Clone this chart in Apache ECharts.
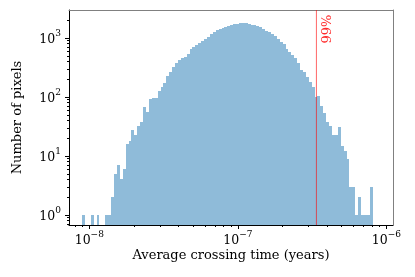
<!DOCTYPE html>
<html><head><meta charset="utf-8">
<script src="https://cdn.jsdelivr.net/npm/echarts@6/dist/echarts.min.js"></script>
<style>html,body{margin:0;padding:0;background:#fff}#c{width:415px;height:277px}</style>
</head><body><div id="c"></div>
<script>
// Histogram: 100 log-spaced bins
const binLogStart = -8.049;   // log10 of first bin's left edge
const binLogStep = 0.01957;   // bin width in decades
const counts = [
  1, 0, 0, 1, 0, 1, 0, 0, 1, 1,
  2, 5, 7, 4, 6, 16, 18, 28, 23, 32,
  37, 67, 55, 92, 96, 98, 126, 148, 170, 224,
  265, 320, 375, 430, 455, 470, 540, 640, 700, 770,
  830, 890, 960, 1040, 1170, 1260, 1350, 1410, 1490, 1540,
  1590, 1630, 1700, 1730, 1780, 1795, 1780, 1730, 1680, 1630,
  1600, 1520, 1420, 1330, 1250, 1170, 1080, 960, 860, 800,
  660, 580, 520, 455, 370, 283, 262, 222, 182, 146,
  101, 102, 70, 53, 37, 32, 23, 23, 31, 15,
  12, 9, 3, 3, 1, 2, 1, 1, 1, 3
];
const percentile99 = 3.38e-7;
const percentileLabel = '99%';
const xMajorTicks = [1e-8, 1e-7, 1e-6];
const yMajorTicks = [1, 10, 100, 1000];
const xRange = [7.30e-9, 1.108e-6];
const yRange = [0.677, 2983];
const xAxisTitle = 'Average crossing time (years)';
const yAxisTitle = 'Number of pixels';

const bins = counts.map((c, i) => [
  Math.pow(10, binLogStart + i * binLogStep),
  Math.pow(10, binLogStart + (i + 1) * binLogStep),
  c
]);

function minorTicks(lo, hi) {
  const out = [];
  for (let e = Math.floor(Math.log10(lo)) - 1; e <= Math.ceil(Math.log10(hi)); e++) {
    for (let m = 2; m <= 9; m++) {
      const v = m * Math.pow(10, e);
      if (v >= lo && v <= hi) out.push(v);
    }
  }
  return out;
}

const FONT = 'DejaVu Serif';
const supFmt = v => {
  const e = Math.round(Math.log10(v));
  return '{b|10}{s|' + (e < 0 ? '\u2212' + (-e) : e) + '}';
};
const rich = {
  b: {fontFamily: FONT, fontSize: 12.5, color: '#000', lineHeight: 17, verticalAlign: 'bottom'},
  s: {fontFamily: FONT, fontSize: 9, color: '#000', lineHeight: 17, verticalAlign: 'top'}
};

const chart = echarts.init(document.getElementById('c'), null, {renderer: 'canvas'});
const grid = {left: 69, right: 22, top: 10, bottom: 52};
const logX = {type: 'log', logBase: 10, min: xRange[0], max: xRange[1], splitLine: {show: false}};
const logY = {type: 'log', logBase: 10, min: yRange[0], max: yRange[1], splitLine: {show: false}};

chart.setOption({
  animation: false,
  backgroundColor: '#fff',
  grid: grid,
  xAxis: [
    Object.assign({}, logX, {
      position: 'bottom',
      axisLine: {show: true, lineStyle: {color: '#000', width: 1}},
      axisTick: {show: true, length: 4, inside: false, customValues: xMajorTicks, lineStyle: {color: '#000'}},
      axisLabel: {show: true, margin: 5, customValues: xMajorTicks, formatter: supFmt, rich: rich}
    }),
    Object.assign({}, logX, {
      position: 'bottom',
      axisLine: {show: false},
      axisTick: {show: true, length: 2, customValues: minorTicks(xRange[0], xRange[1]), lineStyle: {color: '#000'}},
      axisLabel: {show: false}
    }),
    Object.assign({}, logX, {
      position: 'top',
      axisLine: {show: true, lineStyle: {color: '#808080', width: 1}},
      axisTick: {show: false},
      axisLabel: {show: false}
    })
  ],
  yAxis: [
    Object.assign({}, logY, {
      position: 'left',
      axisLine: {show: true, lineStyle: {color: '#000', width: 1}},
      axisTick: {show: true, length: 4, customValues: yMajorTicks, lineStyle: {color: '#000'}},
      axisLabel: {show: true, margin: 8, customValues: yMajorTicks, formatter: supFmt, rich: rich}
    }),
    Object.assign({}, logY, {
      position: 'left',
      axisLine: {show: false},
      axisTick: {show: true, length: 2, customValues: minorTicks(yRange[0], yRange[1]), lineStyle: {color: '#000'}},
      axisLabel: {show: false}
    }),
    Object.assign({}, logY, {
      position: 'right',
      axisLine: {show: true, lineStyle: {color: '#808080', width: 1}},
      axisTick: {show: false},
      axisLabel: {show: false}
    })
  ],
  series: [
    {
      type: 'custom',
      xAxisIndex: 0, yAxisIndex: 0,
      data: bins,
      encode: {x: [0, 1], y: 2},
      clip: true,
      renderItem: function (params, api) {
        const c = api.value(2);
        if (!(c > 0)) return null;
        const p0 = api.coord([api.value(0), c]);
        const p1 = api.coord([api.value(1), c]);
        const cs = params.coordSys;
        const bottom = cs.y + cs.height;
        const x0 = Math.round(p0[0]);
        const x1 = Math.round(p1[0]);
        const y0 = Math.round(p0[1]);
        return {
          type: 'rect',
          shape: {x: x0, y: y0, width: x1 - x0, height: bottom - y0},
          style: {fill: '#8fbbd9', stroke: null, lineWidth: 0}
        };
      }
    },
    {
      type: 'line',
      xAxisIndex: 0, yAxisIndex: 0,
      data: [[percentile99, yRange[0]], [percentile99, yRange[1]]],
      symbol: 'none',
      lineStyle: {color: 'rgba(255,0,0,0.6)', width: 1},
      z: 5
    }
  ]
});

const px = chart.convertToPixel({xAxisIndex: 0, yAxisIndex: 0}, [percentile99, 1]);
const ga = chart.convertToPixel({xAxisIndex: 0, yAxisIndex: 0}, [xRange[0], yRange[0]]);
const gb = chart.convertToPixel({xAxisIndex: 0, yAxisIndex: 0}, [xRange[1], yRange[1]]);
chart.setOption({
  graphic: [
    {
      type: 'text', x: px[0] + 11, y: gb[1] + 19, rotation: Math.PI / 2,
      style: {text: percentileLabel, fill: '#ff2a2a', font: '13px "DejaVu Serif"', align: 'center', verticalAlign: 'middle'},
      z: 10
    },
    {
      type: 'text', x: (ga[0] + gb[0]) / 2, y: 256,
      style: {text: xAxisTitle, fill: '#000', font: '13px "DejaVu Serif"', align: 'center', verticalAlign: 'middle'}
    },
    {
      type: 'text', x: 17.5, y: (ga[1] + gb[1]) / 2, rotation: Math.PI / 2,
      style: {text: yAxisTitle, fill: '#000', font: '13px "DejaVu Serif"', align: 'center', verticalAlign: 'middle'}
    }
  ]
});
</script>
</body></html>
